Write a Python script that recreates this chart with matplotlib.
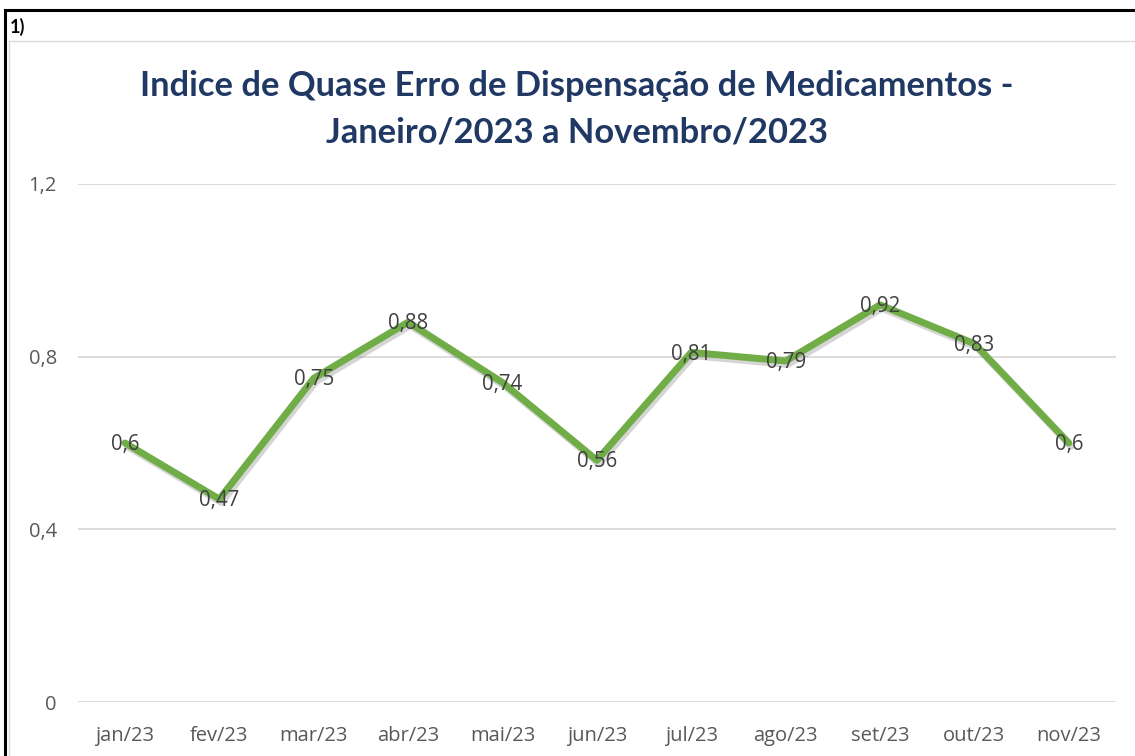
import matplotlib
matplotlib.use("Agg")
import matplotlib.pyplot as plt
from matplotlib.lines import Line2D
import matplotlib.patheffects as pe

months = ["jan/23", "fev/23", "mar/23", "abr/23", "mai/23", "jun/23",
          "jul/23", "ago/23", "set/23", "out/23", "nov/23"]
values = [0.6, 0.47, 0.75, 0.88, 0.74, 0.56, 0.81, 0.79, 0.92, 0.83, 0.6]
value_labels = ["0,6", "0,47", "0,75", "0,88", "0,74", "0,56", "0,81", "0,79", "0,92", "0,83", "0,6"]
yticks = [0, 0.4, 0.8, 1.2]
ytick_labels = ["0", "0,4", "0,8", "1,2"]
title = "Indice de Quase Erro de Dispensação de Medicamentos -\nJaneiro/2023 a Novembro/2023"

W, H = 1135, 756
fig = plt.figure(figsize=(W / 100, H / 100), dpi=100)
fig.patch.set_facecolor("white")

def px(x, y):
    return x / W, 1 - y / H

# outer black border (top and left)
fig.add_artist(Line2D([px(5, 10)[0], 1.0], [px(5, 10)[1]] * 2, color="black", lw=2.2, transform=fig.transFigure))
fig.add_artist(Line2D([px(5, 10)[0]] * 2, [px(5, 10)[1], 0.0], color="black", lw=2.2, transform=fig.transFigure))
# gray chart area border
fig.add_artist(Line2D([px(9, 41)[0], 1.0], [px(9, 41)[1]] * 2, color="#d9d9d9", lw=1.0, transform=fig.transFigure))
fig.add_artist(Line2D([px(9, 41)[0]] * 2, [px(9, 41)[1], 0.0], color="#d9d9d9", lw=1.0, transform=fig.transFigure))

fig.text(px(10, 27)[0], px(10, 27)[1], "1)", fontsize=13, fontweight="bold", family="Lato",
         ha="left", va="center", color="black")

fig.text(px(577, 109)[0], px(577, 109)[1], title, fontsize=24.8, fontweight="bold", family="Lato",
         ha="center", va="center", color="#203864", linespacing=1.55)

left, right = 77.8, 1116
top, bottom = 184, 702
ax = fig.add_axes([left / W, 1 - bottom / H, (right - left) / W, (bottom - top) / H])
ax.set_xlim(-0.5, len(months) - 0.5)
ax.set_ylim(0, 1.2)
x = list(range(len(months)))
ax.plot(x, values, color="#70AD47", lw=5, solid_joinstyle="round", solid_capstyle="round",
        path_effects=[pe.SimpleLineShadow(offset=(1.5, -2.5), shadow_color="#777777", alpha=0.3),
                      pe.Normal()], zorder=3)
for xi, v, lab in zip(x, values, value_labels):
    ax.text(xi, v - 0.004, lab, ha="center", va="center", fontsize=14.8, family="Open Sans",
            color="#404040", zorder=4)

ax.set_yticks(yticks)
ax.set_yticklabels(ytick_labels)
ax.set_xticks(x)
ax.set_xticklabels(months)
ax.grid(axis="y", color="#d9d9d9", lw=1.3)
ax.set_axisbelow(True)
for s in ax.spines.values():
    s.set_visible(False)
ax.tick_params(axis="both", length=0, labelsize=14.5, labelcolor="#595959")
ax.tick_params(axis="y", pad=15)
ax.tick_params(axis="x", pad=17)
for t in ax.get_xticklabels() + ax.get_yticklabels():
    t.set_family("Open Sans")

fig.savefig("out.png", dpi=100)
